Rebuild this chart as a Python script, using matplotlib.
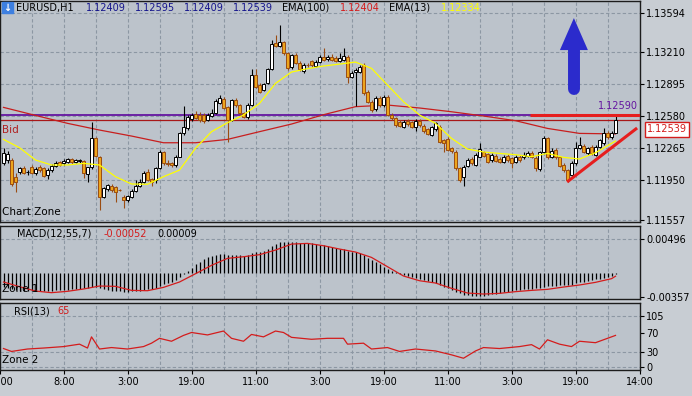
"""EURUSD H1 chart with EMA(100)/EMA(13), MACD and RSI panels."""

import matplotlib

matplotlib.use("Agg")
import matplotlib.pyplot as plt
import numpy as np

plt.rcParams["font.family"] = ["DejaVu Sans"]

# ---------------------------------------------------------------- data
opens = [
    1.12114, 1.12147, 1.12147, 1.11983, 1.12032, 1.12065, 1.12029, 1.12075, 1.12016, 1.12075,
    1.12065, 1.11999, 1.12048, 1.12088, 1.12127, 1.12114, 1.12127, 1.12153, 1.12127, 1.12134,
    1.12134, 1.12009, 1.12075, 1.12360, 1.12180, 1.11786, 1.11858, 1.11891, 1.11878, 1.11852,
    1.11786, 1.11753, 1.11786, 1.11842, 1.11891, 1.11934, 1.12032, 1.11957, 1.11950, 1.12065,
    1.12229, 1.12114, 1.12114, 1.12098, 1.12180, 1.12409, 1.12458, 1.12547, 1.12599, 1.12590,
    1.12590, 1.12540, 1.12580, 1.12606, 1.12704, 1.12744, 1.12665, 1.12540, 1.12737, 1.12685,
    1.12606, 1.12573, 1.12688, 1.12983, 1.12885, 1.12836, 1.12901, 1.13039, 1.13295, 1.13272,
    1.13305, 1.13196, 1.13059, 1.13177, 1.13105, 1.13023, 1.13082, 1.13124, 1.13072, 1.13114,
    1.13164, 1.13137, 1.13164, 1.13154, 1.13124, 1.13131, 1.13164, 1.12960, 1.13013, 1.13016,
    1.13078, 1.12813, 1.12721, 1.12645, 1.12760, 1.12688, 1.12770, 1.12590, 1.12557, 1.12524,
    1.12475, 1.12531, 1.12517, 1.12475, 1.12534, 1.12481, 1.12449, 1.12393, 1.12449, 1.12475,
    1.12344, 1.12357, 1.12262, 1.12229, 1.12065, 1.11983, 1.12088, 1.12153, 1.12098, 1.12180,
    1.12229, 1.12206, 1.12147, 1.12186, 1.12153, 1.12130, 1.12186, 1.12163, 1.12130, 1.12180,
    1.12173, 1.12186, 1.12212, 1.12163, 1.12055, 1.12229, 1.12360, 1.12180, 1.12245, 1.12173,
    1.12098, 1.12048, 1.11999, 1.12114, 1.12262, 1.12285, 1.12212, 1.12278, 1.12196, 1.12278,
    1.12311, 1.12416, 1.12370, 1.12409,
]
highs = [
    1.12262, 1.12239, 1.12163, 1.12016, 1.12081, 1.12088, 1.12048, 1.12098, 1.12075, 1.12098,
    1.12075, 1.12065, 1.12107, 1.12134, 1.12140, 1.12153, 1.12166, 1.12166, 1.12160, 1.12160,
    1.12147, 1.12075, 1.12524, 1.12376, 1.12186, 1.11884, 1.11911, 1.11911, 1.11891, 1.11865,
    1.11802, 1.11802, 1.11858, 1.11950, 1.11957, 1.12042, 1.12055, 1.11966, 1.12075, 1.12245,
    1.12239, 1.12147, 1.12130, 1.12196, 1.12426, 1.12678, 1.12590, 1.12613, 1.12632, 1.12622,
    1.12613, 1.12606, 1.12645, 1.12744, 1.12786, 1.12763, 1.12678, 1.12744, 1.12754, 1.12698,
    1.12619, 1.12704, 1.13039, 1.13039, 1.12901, 1.12908, 1.13052, 1.13328, 1.13377, 1.13475,
    1.13321, 1.13213, 1.13190, 1.13196, 1.13124, 1.13098, 1.13098, 1.13131, 1.13131, 1.13180,
    1.13246, 1.13180, 1.13190, 1.13170, 1.13196, 1.13252, 1.13180, 1.13026, 1.13049, 1.13082,
    1.13098, 1.12836, 1.12737, 1.12777, 1.12777, 1.12786, 1.12786, 1.12606, 1.12573, 1.12540,
    1.12540, 1.12547, 1.12534, 1.12547, 1.12550, 1.12498, 1.12465, 1.12485, 1.12524, 1.12491,
    1.12357, 1.12370, 1.12278, 1.12245, 1.12075, 1.12098, 1.12163, 1.12173, 1.12212, 1.12311,
    1.12239, 1.12219, 1.12212, 1.12206, 1.12173, 1.12196, 1.12206, 1.12180, 1.12196, 1.12196,
    1.12229, 1.12239, 1.12232, 1.12186, 1.12239, 1.12383, 1.12370, 1.12262, 1.12262, 1.12186,
    1.12114, 1.12062, 1.12134, 1.12327, 1.12370, 1.12304, 1.12278, 1.12291, 1.12294, 1.12357,
    1.12458, 1.12429, 1.12429, 1.12595,
]
lows = [
    1.12098, 1.12114, 1.11891, 1.11835, 1.12009, 1.12009, 1.11999, 1.12009, 1.11999, 1.12032,
    1.11976, 1.11957, 1.12032, 1.12075, 1.12088, 1.12094, 1.12114, 1.12107, 1.12114, 1.12114,
    1.11966, 1.11934, 1.12055, 1.12173, 1.11655, 1.11770, 1.11845, 1.11835, 1.11737, 1.11838,
    1.11671, 1.11737, 1.11770, 1.11832, 1.11878, 1.11924, 1.11940, 1.11891, 1.11917, 1.12055,
    1.12098, 1.12088, 1.12081, 1.12081, 1.12173, 1.12393, 1.12442, 1.12534, 1.12547, 1.12524,
    1.12514, 1.12527, 1.12567, 1.12599, 1.12698, 1.12645, 1.12327, 1.12534, 1.12672, 1.12593,
    1.12557, 1.12547, 1.12678, 1.12855, 1.12803, 1.12822, 1.12895, 1.13032, 1.13255, 1.13255,
    1.13180, 1.13032, 1.13046, 1.13091, 1.13026, 1.13006, 1.13065, 1.13065, 1.13059, 1.13105,
    1.13118, 1.13124, 1.13118, 1.13111, 1.13114, 1.13124, 1.12901, 1.12950, 1.12681, 1.13000,
    1.12790, 1.12704, 1.12622, 1.12632, 1.12672, 1.12672, 1.12580, 1.12540, 1.12475, 1.12468,
    1.12458, 1.12481, 1.12458, 1.12432, 1.12475, 1.12416, 1.12390, 1.12383, 1.12435, 1.12317,
    1.12229, 1.12232, 1.12219, 1.12048, 1.11934, 1.11891, 1.12075, 1.12098, 1.12088, 1.12173,
    1.12173, 1.12114, 1.12130, 1.12127, 1.12114, 1.12114, 1.12130, 1.12065, 1.12121, 1.12130,
    1.12160, 1.12173, 1.12166, 1.12042, 1.12042, 1.12219, 1.12160, 1.12166, 1.12160, 1.12075,
    1.12029, 1.11930, 1.11983, 1.12101, 1.12252, 1.12219, 1.12199, 1.12199, 1.12186, 1.12265,
    1.12298, 1.12357, 1.12357, 1.12409,
]
closes = [
    1.12212, 1.12206, 1.11911, 1.11934, 1.12065, 1.12022, 1.12032, 1.12016, 1.12055, 1.12048,
    1.11989, 1.12048, 1.12088, 1.12121, 1.12101, 1.12140, 1.12153, 1.12127, 1.12147, 1.12147,
    1.12016, 1.12075, 1.12360, 1.12186, 1.11786, 1.11868, 1.11901, 1.11852, 1.11832, 1.11850,
    1.11753, 1.11793, 1.11845, 1.11891, 1.11934, 1.12016, 1.11950, 1.11934, 1.12065, 1.12229,
    1.12114, 1.12107, 1.12098, 1.12180, 1.12409, 1.12475, 1.12573, 1.12590, 1.12557, 1.12540,
    1.12534, 1.12590, 1.12613, 1.12731, 1.12754, 1.12655, 1.12540, 1.12737, 1.12685, 1.12606,
    1.12570, 1.12688, 1.12983, 1.12868, 1.12819, 1.12895, 1.13039, 1.13288, 1.13269, 1.13311,
    1.13196, 1.13052, 1.13177, 1.13105, 1.13039, 1.13082, 1.13078, 1.13082, 1.13114, 1.13164,
    1.13131, 1.13164, 1.13131, 1.13121, 1.13147, 1.13170, 1.12960, 1.13006, 1.13032, 1.13059,
    1.12803, 1.12721, 1.12639, 1.12754, 1.12688, 1.12770, 1.12590, 1.12557, 1.12491, 1.12481,
    1.12524, 1.12498, 1.12475, 1.12531, 1.12488, 1.12432, 1.12403, 1.12468, 1.12508, 1.12327,
    1.12311, 1.12245, 1.12239, 1.12065, 1.11950, 1.12081, 1.12147, 1.12114, 1.12196, 1.12252,
    1.12186, 1.12130, 1.12196, 1.12140, 1.12130, 1.12180, 1.12147, 1.12114, 1.12173, 1.12147,
    1.12196, 1.12219, 1.12180, 1.12065, 1.12229, 1.12360, 1.12180, 1.12239, 1.12173, 1.12088,
    1.12048, 1.11950, 1.12121, 1.12262, 1.12294, 1.12229, 1.12262, 1.12212, 1.12278, 1.12344,
    1.12409, 1.12370, 1.12416, 1.12539,
]

# EMA lines, read every 4th bar
ema_idx = [0, 4, 8, 12, 16, 20, 24, 28, 32, 36, 40, 44, 48, 52, 56, 60, 64, 68, 72, 76,
           80, 84, 88, 92, 96, 100, 104, 108, 112, 116, 120, 124, 128, 132, 136, 140, 144,
           148, 152, 153]
ema13 = [1.12350, 1.12268, 1.12147, 1.12098, 1.12098, 1.12114, 1.12098, 1.11983, 1.11911,
         1.11908, 1.11983, 1.12048, 1.12262, 1.12426, 1.12514, 1.12590, 1.12704, 1.12901,
         1.13013, 1.13046, 1.13072, 1.13091, 1.13111, 1.13049, 1.12885, 1.12721, 1.12590,
         1.12508, 1.12360, 1.12255, 1.12226, 1.12212, 1.12199, 1.12180, 1.12212, 1.12173,
         1.12157, 1.12219, 1.12311, 1.12334]
ema100_idx = [0, 8, 16, 24, 32, 40, 48, 56, 64, 72, 80, 88, 96, 104, 112, 120, 128, 136,
              144, 153]
ema100 = [1.12665, 1.12586, 1.12508, 1.12442, 1.12383, 1.12317, 1.12317, 1.12350, 1.12426,
          1.12501, 1.12593, 1.12672, 1.12688, 1.12659, 1.12622, 1.12580, 1.12534, 1.12458,
          1.12409, 1.12404]

# MACD(12,55,7): histogram per bar, signal read every 4th bar
macd_hist = [
    -0.00206, -0.00221, -0.00240, -0.00255, -0.00265, -0.00270, -0.00274, -0.00274, -0.00274, -0.00270,
    -0.00270, -0.00265, -0.00265, -0.00260, -0.00255, -0.00255, -0.00250, -0.00245, -0.00240, -0.00235,
    -0.00230, -0.00225, -0.00206, -0.00206, -0.00230, -0.00245, -0.00255, -0.00265, -0.00270, -0.00274,
    -0.00279, -0.00279, -0.00274, -0.00270, -0.00265, -0.00255, -0.00245, -0.00235, -0.00221, -0.00196,
    -0.00172, -0.00157, -0.00132, -0.00108, -0.00059, -0.00020, 0.00029, 0.00074, 0.00123, 0.00162,
    0.00196, 0.00225, 0.00245, 0.00265, 0.00274, 0.00270, 0.00255, 0.00260, 0.00265, 0.00255,
    0.00245, 0.00255, 0.00294, 0.00309, 0.00309, 0.00314, 0.00343, 0.00392, 0.00421, 0.00446,
    0.00451, 0.00446, 0.00451, 0.00446, 0.00441, 0.00436, 0.00431, 0.00431, 0.00421, 0.00412,
    0.00402, 0.00392, 0.00382, 0.00368, 0.00353, 0.00343, 0.00323, 0.00309, 0.00299, 0.00284,
    0.00255, 0.00221, 0.00186, 0.00152, 0.00123, 0.00088, 0.00054, 0.00029, 0.00005, -0.00020,
    -0.00034, -0.00049, -0.00064, -0.00078, -0.00093, -0.00108, -0.00123, -0.00137, -0.00157, -0.00181,
    -0.00206, -0.00230, -0.00255, -0.00279, -0.00304, -0.00323, -0.00333, -0.00338, -0.00343, -0.00343,
    -0.00338, -0.00328, -0.00319, -0.00309, -0.00299, -0.00289, -0.00279, -0.00270, -0.00260, -0.00255,
    -0.00245, -0.00240, -0.00235, -0.00230, -0.00221, -0.00206, -0.00201, -0.00196, -0.00191, -0.00186,
    -0.00186, -0.00186, -0.00176, -0.00157, -0.00142, -0.00132, -0.00123, -0.00108, -0.00098, -0.00088,
    -0.00078, -0.00069, -0.00049, -0.00025,
]
macd_signal = [-0.00137, -0.00206, -0.00270, -0.00294, -0.00274, -0.00240, -0.00196, -0.00201,
               -0.00260, -0.00265, -0.00216, -0.00137, -0.00015, 0.00108, 0.00211, 0.00235,
               0.00265, 0.00333, 0.00421, 0.00431, 0.00397, 0.00348, 0.00304, 0.00225,
               0.00088, -0.00049, -0.00118, -0.00152, -0.00230, -0.00299, -0.00314, -0.00304,
               -0.00279, -0.00260, -0.00245, -0.00211, -0.00181, -0.00142, -0.00088, -0.00052]
macd_last = 0.00009

# RSI(13), read at its turning points
rsi_idx = [0, 2, 6, 10, 15, 19, 21, 22, 24, 27, 31, 35, 37, 39, 42, 45, 47, 51, 55, 57,
           60, 62, 65, 68, 70, 72, 77, 81, 85, 86, 90, 92, 96, 99, 103, 108, 112, 115, 118,
           120, 124, 129, 132, 134, 136, 139, 142, 144, 148, 151, 153]
rsi = [38, 32, 37, 39, 42, 47, 39, 62, 37, 40, 37, 42, 49, 59, 53, 65, 71, 66, 74, 59,
       53, 67, 62, 74, 71, 61, 57, 59, 59, 47, 49, 37, 40, 32, 37, 33, 25, 18, 33,
       40, 38, 42, 46, 37, 56, 47, 42, 53, 50, 59, 65]

price_ticks = [1.13594, 1.13210, 1.12895, 1.12580, 1.12265, 1.11950, 1.11557]
macd_ticks = [0.00496, -0.00357]
rsi_ticks = [105, 70, 30, 0]
time_labels = ["16:00", "8:00", "3:00", "19:00", "11:00", "3:00", "19:00", "11:00",
               "3:00", "19:00", "14:00"]

alert_level = 1.12590
bid = 1.12539
header_ohlc = ["1.12409", "1.12595", "1.12409", "1.12539"]

# ---------------------------------------------------------------- style
W, H = 692, 396
PLOT_BG = "#bcc3cb"
OUTER_BG = "#c8cdd3"
GRID = "#8c97a3"
FRAME = "#1c1c1c"
UP_BODY, UP_LINE = "#ffffff", "#000000"
DN_BODY, DN_LINE = "#eda51c", "#9a4c12"
RED = "#d41c1c"
YELLOW = "#ffff00"
PURPLE = "#6414a0"
BLUE = "#2b2bcc"
NAVY = "#14148c"

XMIN, XMAX = -0.875, 159.125

fig = plt.figure(figsize=(W / 100, H / 100), dpi=100)
fig.patch.set_facecolor(OUTER_BG)


def px_axes(top, bottom, left=0, right=640):
    return fig.add_axes([left / W, 1 - bottom / H, (right - left) / W, (bottom - top) / H])


def ftext(x, y, s, **kw):
    kw.setdefault("fontsize", 7)
    kw.setdefault("va", "center")
    return fig.text(x / W, 1 - y / H, s, **kw)


def style_axes(a, ticks, fmt, hgrid):
    a.set_facecolor(PLOT_BG)
    a.set_xlim(XMIN, XMAX)
    a.yaxis.tick_right()
    a.set_yticks(ticks)
    a.set_yticklabels([fmt.format(t) for t in ticks])
    a.tick_params(axis="y", direction="out", length=3, width=0.8, pad=1.5,
                  labelsize=7, colors="black")
    a.set_xticks([])
    for s in a.spines.values():
        s.set_color(FRAME)
        s.set_linewidth(1.0)
    for k in range(1, 20):
        a.axvline(8 * k + XMIN, color=GRID, lw=0.8, ls=(0, (3, 2)), zorder=0)
    for v in hgrid:
        a.axhline(v, color=GRID, lw=0.8, ls=(0, (3, 2)), zorder=0)


ax = px_axes(1, 222)
ax_macd = px_axes(226, 299)
ax_rsi = px_axes(303, 370)

ax.set_ylim(1.11537, 1.13712)
ax_macd.set_ylim(-0.00387, 0.00687)
ax_rsi.set_ylim(-6.2, 131.7)
style_axes(ax, price_ticks, "{:.5f}", price_ticks)
style_axes(ax_macd, macd_ticks, "{:.5f}", [0.00496])
style_axes(ax_rsi, rsi_ticks, "{:d}", [105, 30, 0])

# ---------------------------------------------------------------- price panel
o = np.array(opens)
h = np.array(highs)
l = np.array(lows)
c = np.array(closes)
idx = np.arange(len(c))
up = c >= o

ax.axhline(alert_level, color=PURPLE, lw=1.3, zorder=1)
ax.axhline(bid, color="#a81818", lw=0.9, zorder=1)

ax.plot(ema100_idx, ema100, color="#c81e1e", lw=0.9, zorder=2)

ax.vlines(idx[up], l[up], h[up], color=UP_LINE, lw=0.8, zorder=3)
ax.vlines(idx[~up], l[~up], h[~up], color=DN_LINE, lw=0.8, zorder=3)
ax.bar(idx[up], np.abs(c - o)[up], bottom=np.minimum(o, c)[up], width=0.6,
       color=UP_BODY, edgecolor=UP_LINE, lw=0.7, zorder=3)
ax.bar(idx[~up], np.abs(c - o)[~up], bottom=np.minimum(o, c)[~up], width=0.6,
       color=DN_BODY, edgecolor=DN_LINE, lw=0.7, zorder=3)

ax.plot(ema_idx, ema13, color=YELLOW, lw=0.9, zorder=4)

# hand-drawn objects: resistance line, rising trend line, blue arrow
ax.plot([131.6, XMAX], [1.12586, 1.12586], color="#e61e1e", lw=2.2,
        solid_capstyle="butt", zorder=5)
ax.plot([140.9, 158.4], [1.11931, 1.12462], color="#e61e1e", lw=2.2,
        solid_capstyle="butt", zorder=5)
arrow_x, arrow_tip, arrow_neck, arrow_tail = 142.6, 1.13544, 1.13229, 1.12846
ax.plot([arrow_x, arrow_x], [arrow_tail, arrow_neck], color=BLUE, lw=8.6,
        solid_capstyle="round", zorder=6)
ax.fill([arrow_x - 3.5, arrow_x + 3.5, arrow_x], [arrow_neck, arrow_neck, arrow_tip],
        color=BLUE, lw=0, zorder=6)

ax.text(158.6, 1.12678, f"{alert_level:.5f}", color=PURPLE, fontsize=7,
        ha="right", va="center", zorder=7)

# ---------------------------------------------------------------- MACD panel
ax_macd.vlines(idx, 0, macd_hist, color="black", lw=0.9, zorder=2)
ax_macd.plot(ema_idx, macd_signal, color=RED, lw=0.9, zorder=3)

# ---------------------------------------------------------------- RSI panel
ax_rsi.plot(rsi_idx, rsi, color=RED, lw=0.9, zorder=3)
time_pos = [16 * k + XMIN for k in range(len(time_labels))]
ax_rsi.set_xticks(time_pos)
ax_rsi.set_xticklabels(time_labels)
ax_rsi.tick_params(axis="x", direction="out", length=3, width=0.8, pad=2,
                   labelsize=7, colors="black")

# ---------------------------------------------------------------- texts
fig.patches.append(plt.Rectangle((2 / W, 1 - 13 / H), 11 / W, 11 / H,
                                 transform=fig.transFigure, color="#3d7fe0", zorder=1))
ftext(7.5, 7.5, "\u2193", color="white", fontsize=7, fontweight="bold", ha="center",
      zorder=2)
ftext(16, 8, "EURUSD,H1")
for x, s in zip([86, 135, 184, 233], header_ohlc):
    ftext(x, 8, s, color=NAVY)
ftext(282, 8, "EMA(100)")
ftext(340, 8, f"{ema100[-1]:.5f}", color=RED)
ftext(389, 8, "EMA(13)")
ftext(441, 8, f"{ema13[-1]:.5f}", color=YELLOW)

ftext(2, 130, "Bid", color="#b02020", fontsize=7.5)
ftext(2, 212, "Chart Zone", fontsize=7.5)
ftext(17, 234, "MACD(12,55,7)")
ftext(104, 234, f"{macd_signal[-1]:.5f}", color=RED)
ftext(157, 234, f"{macd_last:.5f}")
ftext(2, 289, "Zone 1", fontsize=7.5)
ftext(14, 311, "RSI(13)")
ftext(57, 311, f"{rsi[-1]}", color=RED)
ftext(2, 360, "Zone 2", fontsize=7.5)

ftext(647, 129.5, f"{bid:.5f}", color=RED,
      bbox=dict(boxstyle="square,pad=0.25", fc="white", ec=RED, lw=1))

fig.savefig("out.png", dpi=100, facecolor=fig.get_facecolor())
